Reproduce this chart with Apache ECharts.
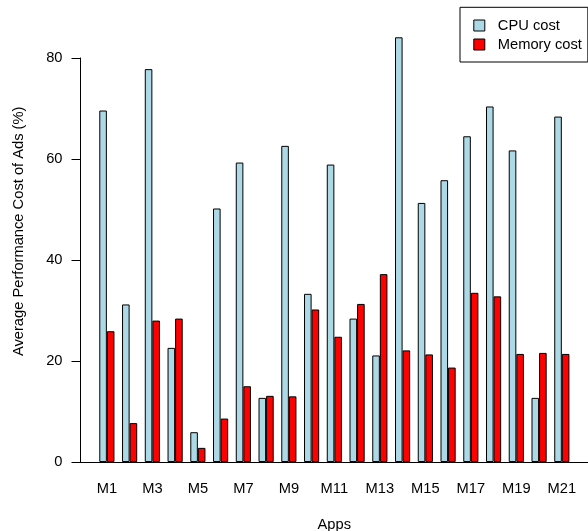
<!DOCTYPE html>
<html>
<head>
<meta charset="utf-8">
<script src="https://cdn.jsdelivr.net/npm/echarts@6/dist/echarts.min.js"></script>
<style>
html,body{margin:0;padding:0;background:#fff;}
#c{width:588px;height:531px;}
</style>
</head>
<body>
<div id="c"></div>
<script>
var categories = ['M1','M2','M3','M4','M5','M6','M7','M8','M9','M10','M11','M12','M13','M14','M15','M16','M17','M18','M19','M20','M21'];
var cpuCost    = [69.6, 31.2, 77.8, 22.6, 5.9, 50.2, 59.3, 12.7, 62.6, 33.3, 58.9, 28.4, 21.1, 84.1, 51.3, 55.8, 64.5, 70.4, 61.7, 12.7, 68.4];
var memoryCost = [25.9, 7.7, 28.0, 28.4, 2.8, 8.6, 15.0, 13.1, 13.0, 30.2, 24.8, 31.3, 37.2, 22.1, 21.3, 18.7, 33.5, 32.8, 21.4, 21.6, 21.4];
var yTicks = [0, 20, 40, 60, 80];

var FONT = 'Liberation Sans, Arial, Helvetica, sans-serif';
var FS = 14.7;

var chart = echarts.init(document.getElementById('c'), null, {renderer: 'canvas'});
chart.setOption({
  animation: false,
  backgroundColor: '#ffffff',
  textStyle: {fontFamily: FONT},
  grid: [
    {left: 95.5, right: 14.8, top: 58, bottom: 69, containLabel: false, outerBoundsMode: 'none'},
    {left: 80.5, right: 0, top: 58, bottom: 69, containLabel: false, outerBoundsMode: 'none'}
  ],
  legend: {
    orient: 'vertical',
    left: 460, top: 7.3,
    padding: [10.7, 6, 10, 13.3],
    borderColor: '#000', borderWidth: 1,
    itemWidth: 11, itemHeight: 11, itemGap: 4,
    icon: 'rect',
    itemStyle: {borderColor: '#000', borderWidth: 1},
    textStyle: {fontSize: FS, color: '#000', fontFamily: FONT, lineHeight: 14.3, padding: [0,0,0,8]},
    data: ['CPU cost', 'Memory cost']
  },
  xAxis: [
    {
      gridIndex: 0, type: 'category', data: categories,
      axisLine: {show: false}, axisTick: {show: false},
      axisLabel: {interval: 1, margin: 19.3, fontSize: FS, color: '#000', fontFamily: FONT, lineHeight: 16}
    },
    {
      gridIndex: 1, type: 'value', min: 0, max: 1,
      axisLine: {show: true, lineStyle: {color: '#000', width: 1}},
      axisTick: {show: false}, axisLabel: {show: false}, splitLine: {show: false},
      name: 'Apps', nameLocation: 'middle', nameGap: 55,
      nameTextStyle: {fontSize: FS, color: '#000', fontFamily: FONT}
    }
  ],
  yAxis: [
    {
      gridIndex: 0, type: 'value', min: 0, max: 80, show: false
    },
    {
      gridIndex: 1, type: 'value', min: 0, max: 80, interval: 20,
      axisLine: {show: true, lineStyle: {color: '#000', width: 1}},
      axisTick: {show: true, length: 9, lineStyle: {color: '#000'}},
      axisLabel: {margin: 18, fontSize: FS, color: '#000', fontFamily: FONT,
        formatter: function (v) { return yTicks.indexOf(v) >= 0 ? String(v) : ''; }},
      splitLine: {show: false}
    }
  ],
  graphic: [{
    type: 'text',
    x: 18.5, y: 231.3,
    rotation: Math.PI / 2,
    style: {
      text: 'Average Performance Cost of Ads (%)',
      font: FS + 'px ' + FONT,
      fill: '#000',
      align: 'center', verticalAlign: 'middle'
    }
  }],
  series: [
    {
      name: 'CPU cost', type: 'bar', xAxisIndex: 0, yAxisIndex: 0,
      data: cpuCost, clip: false,
      barGap: '0%', barCategoryGap: '33.33%',
      itemStyle: {color: '#ADD8E6', borderColor: '#000', borderWidth: 1}
    },
    {
      name: 'Memory cost', type: 'bar', xAxisIndex: 0, yAxisIndex: 0,
      data: memoryCost, clip: false,
      barGap: '0%', barCategoryGap: '33.33%',
      itemStyle: {color: '#FF0000', borderColor: '#000', borderWidth: 1}
    }
  ]
});
</script>
</body>
</html>
